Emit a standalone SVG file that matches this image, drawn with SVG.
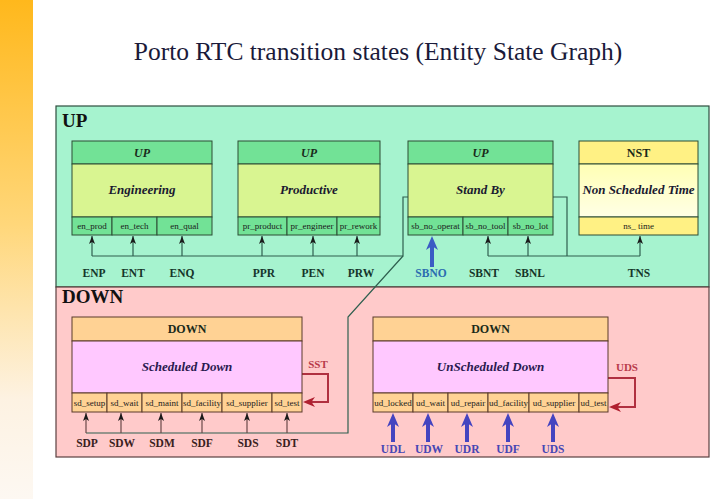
<svg xmlns="http://www.w3.org/2000/svg" width="720" height="499" viewBox="0 0 720 499" font-family="'Liberation Serif', 'Times New Roman', serif">
<style>
text{font-family:"Liberation Serif","Times New Roman",serif}
.title{font-size:25.5px;fill:#1a1a3a;text-anchor:middle}
.grp{font-size:19px;font-weight:bold;fill:#111}
.hdr{font-size:12px;font-weight:bold;text-anchor:middle;fill:#1a2a1a}
.hdri{font-style:italic}
.body{font-size:13px;font-weight:bold;font-style:italic;text-anchor:middle;fill:#1a1a30}
.bodyd{fill:#2a1a50}
.cell{font-size:9px;text-anchor:middle;fill:#1a1a1a}
.lbl{font-size:11.5px;font-weight:bold;text-anchor:middle}
.lu{fill:#15352a}
.ld{fill:#3a2020}
.lb{fill:#2b6cb0}
.lv{fill:#4646b4}
.lr{fill:#b83a4a;font-size:11px}
.nu{stroke:#2d4d35;stroke-width:1}
.nd{stroke:#5a3a2a;stroke-width:1}
.uh{fill:#72e296}
.ub{fill:#d9f591}
.nh{fill:#fff184}
.dh{fill:#ffd294}
.db{fill:#ffc8ff}
.cu{fill:none;stroke:#2f5f4f;stroke-width:1.2}
.cd{fill:none;stroke:#6a4848;stroke-width:1.2}
.cb{fill:none;stroke:#4444c0;stroke-width:4}
.cr{fill:none;stroke:#b03040;stroke-width:2}
</style>
<defs>
<linearGradient id="bar" x1="0" y1="0" x2="0" y2="1">
<stop offset="0" stop-color="#ffb81c"/>
<stop offset="0.45" stop-color="#ffd77a"/>
<stop offset="0.8" stop-color="#fdf2e2"/>
<stop offset="1" stop-color="#fdf8f2"/>
</linearGradient>
<linearGradient id="nstb" x1="0" y1="0" x2="0" y2="1">
<stop offset="0" stop-color="#ffffb4"/>
<stop offset="1" stop-color="#ffffe6"/>
</linearGradient>
<marker id="ah" viewBox="0 0 8 6" refX="8" refY="3" markerWidth="8" markerHeight="6" markerUnits="userSpaceOnUse" orient="auto">
<path d="M0,0 L8,3 L0,6 L2,3 z" fill="#1a1a1a"/>
</marker>
<marker id="ahb" viewBox="0 0 14 12" refX="5" refY="6" markerWidth="14" markerHeight="12" markerUnits="userSpaceOnUse" orient="auto">
<path d="M0,0 L14,6 L0,12 L4,6 z" fill="#4444c0"/>
</marker>
<marker id="ahb2" viewBox="0 0 14 12" refX="5" refY="6" markerWidth="14" markerHeight="12" markerUnits="userSpaceOnUse" orient="auto">
<path d="M0,0 L14,6 L0,12 L4,6 z" fill="#3a5cc4"/>
</marker>
<marker id="ahr" viewBox="0 0 12 10" refX="4" refY="5" markerWidth="12" markerHeight="10" markerUnits="userSpaceOnUse" orient="auto">
<path d="M0,0 L12,5 L0,10 L3.5,5 z" fill="#b02030"/>
</marker>
</defs>
<rect x="0" y="0" width="720" height="499" fill="#ffffff"/>
<rect x="0" y="0" width="33" height="499" fill="url(#bar)"/>
<text class="title" x="378" y="60">Porto RTC transition states (Entity State Graph)</text>

<g id="group-up">
<rect x="56" y="106" width="653" height="181" fill="#a6f3cf" stroke="#2e4e3e" stroke-width="1.2"/>
<text class="grp" x="62" y="127">UP</text>
</g>
<g id="group-down">
<rect x="56" y="287" width="653" height="170" fill="#ffcaca" stroke="#5a4040" stroke-width="1.2"/>
<text class="grp" x="62" y="303">DOWN</text>
</g>

<g id="connectors">
<path class="cu" d="M92,256 H403 V197 H413"/>
<path class="cu" d="M546,197 H567 V256"/>
<path class="cu" d="M488,256 H640"/>
<path class="cu" d="M403,256 L348,317 V433 H86"/>
<g class="cu" marker-end="url(#ah)">
<path d="M92,256 V236"/><path d="M133,256 V236"/><path d="M182,256 V236"/>
<path d="M262,256 V236"/><path d="M313,256 V236"/><path d="M357,256 V236"/>
<path d="M488,256 V236"/><path d="M528,256 V236"/><path d="M640,256 V236"/>
</g>
<g class="cd" marker-end="url(#ah)">
<path d="M86,433 V413"/><path d="M121,433 V413"/><path d="M161,433 V413"/>
<path d="M202,433 V413"/><path d="M247,433 V413"/><path d="M287,433 V413"/>
</g>
<path d="M432,267 V245" fill="none" stroke="#3a5cc4" stroke-width="4" marker-end="url(#ahb2)"/>
<g class="cb" marker-end="url(#ahb)">
<path d="M393,442 V422"/><path d="M428,442 V422"/><path d="M467,442 V422"/>
<path d="M508,442 V422"/><path d="M553,442 V422"/>
</g>
<path class="cr" d="M302,374 H328 V402 H311" marker-end="url(#ahr)"/>
<path class="cr" d="M608,378 H635 V407 H617" marker-end="url(#ahr)"/>
</g>

<g id="labels">
<text class="lbl lu" x="94" y="277">ENP</text>
<text class="lbl lu" x="133" y="277">ENT</text>
<text class="lbl lu" x="182" y="277">ENQ</text>
<text class="lbl lu" x="264" y="277">PPR</text>
<text class="lbl lu" x="313" y="277">PEN</text>
<text class="lbl lu" x="361" y="277">PRW</text>
<text class="lbl lb" x="431" y="277">SBNO</text>
<text class="lbl lu" x="484" y="277">SBNT</text>
<text class="lbl lu" x="530" y="277">SBNL</text>
<text class="lbl lu" x="639" y="277">TNS</text>
<text class="lbl ld" x="87" y="447">SDP</text>
<text class="lbl ld" x="122" y="447">SDW</text>
<text class="lbl ld" x="162" y="447">SDM</text>
<text class="lbl ld" x="202" y="447">SDF</text>
<text class="lbl ld" x="248" y="447">SDS</text>
<text class="lbl ld" x="287" y="447">SDT</text>
<text class="lbl lv" x="393" y="453">UDL</text>
<text class="lbl lv" x="429" y="453">UDW</text>
<text class="lbl lv" x="467" y="453">UDR</text>
<text class="lbl lv" x="508" y="453">UDF</text>
<text class="lbl lv" x="553" y="453">UDS</text>
<text class="lbl lr" x="318" y="368">SST</text>
<text class="lbl lr" x="627" y="371">UDS</text>
</g>

<g id="node-engineering">
<rect class="nu uh" x="72" y="141" width="140" height="23"/>
<rect class="nu ub" x="72" y="164" width="140" height="53"/>
<rect class="nu uh" x="72" y="217" width="40" height="18"/>
<rect class="nu uh" x="112" y="217" width="45" height="18"/>
<rect class="nu uh" x="157" y="217" width="55" height="18"/>
<text class="hdr hdri" x="142" y="157">UP</text>
<text class="body" x="142" y="194">Engineering</text>
<text class="cell" x="92" y="229">en_prod</text>
<text class="cell" x="134.5" y="229">en_tech</text>
<text class="cell" x="184.5" y="229">en_qual</text>
</g>

<g id="node-productive">
<rect class="nu uh" x="238" y="141" width="142" height="23"/>
<rect class="nu ub" x="238" y="164" width="142" height="53"/>
<rect class="nu uh" x="238" y="217" width="49" height="18"/>
<rect class="nu uh" x="287" y="217" width="50" height="18"/>
<rect class="nu uh" x="337" y="217" width="43" height="18"/>
<text class="hdr hdri" x="309" y="157">UP</text>
<text class="body" x="309" y="194">Productive</text>
<text class="cell" x="262.5" y="229">pr_product</text>
<text class="cell" x="312" y="229">pr_engineer</text>
<text class="cell" x="358.5" y="229">pr_rework</text>
</g>

<g id="node-standby">
<rect class="nu uh" x="408" y="141" width="145" height="23"/>
<rect class="nu ub" x="408" y="164" width="145" height="53"/>
<rect class="nu uh" x="408" y="217" width="55" height="18"/>
<rect class="nu uh" x="463" y="217" width="45" height="18"/>
<rect class="nu uh" x="508" y="217" width="45" height="18"/>
<text class="hdr hdri" x="480.5" y="157">UP</text>
<text class="body" x="480.5" y="194">Stand By</text>
<text class="cell" x="435.5" y="229">sb_no_operat</text>
<text class="cell" x="485.5" y="229">sb_no_tool</text>
<text class="cell" x="530.5" y="229">sb_no_lot</text>
</g>

<g id="node-nst">
<rect class="nu nh" x="579" y="141" width="119" height="23"/>
<rect class="nu" x="579" y="164" width="119" height="53" fill="url(#nstb)"/>
<rect class="nu nh" x="579" y="217" width="119" height="18"/>
<text class="hdr" x="638.5" y="157">NST</text>
<text class="body" x="638.5" y="194">Non Scheduled Time</text>
<text class="cell" x="638.5" y="229">ns_ time</text>
</g>

<g id="node-scheduled-down">
<rect class="nd dh" x="72" y="317" width="230" height="24"/>
<rect class="nd db" x="72" y="341" width="230" height="52"/>
<rect class="nd dh" x="72" y="393" width="35" height="19"/>
<rect class="nd dh" x="107" y="393" width="35" height="19"/>
<rect class="nd dh" x="142" y="393" width="40" height="19"/>
<rect class="nd dh" x="182" y="393" width="40" height="19"/>
<rect class="nd dh" x="222" y="393" width="50" height="19"/>
<rect class="nd dh" x="272" y="393" width="30" height="19"/>
<text class="hdr" x="187" y="333">DOWN</text>
<text class="body bodyd" x="187" y="371">Scheduled Down</text>
<text class="cell" x="89.5" y="406">sd_setup</text>
<text class="cell" x="124.5" y="406">sd_wait</text>
<text class="cell" x="162" y="406">sd_maint</text>
<text class="cell" x="202" y="406">sd_facility</text>
<text class="cell" x="247" y="406">sd_supplier</text>
<text class="cell" x="287" y="406">sd_test</text>
</g>

<g id="node-unscheduled-down">
<rect class="nd dh" x="373" y="317" width="235" height="24"/>
<rect class="nd db" x="373" y="341" width="235" height="52"/>
<rect class="nd dh" x="373" y="393" width="40" height="19"/>
<rect class="nd dh" x="413" y="393" width="35" height="19"/>
<rect class="nd dh" x="448" y="393" width="40" height="19"/>
<rect class="nd dh" x="488" y="393" width="41" height="19"/>
<rect class="nd dh" x="529" y="393" width="50" height="19"/>
<rect class="nd dh" x="579" y="393" width="29" height="19"/>
<text class="hdr" x="490.5" y="333">DOWN</text>
<text class="body bodyd" x="490.5" y="371">UnScheduled Down</text>
<text class="cell" x="393" y="406">ud_locked</text>
<text class="cell" x="430.5" y="406">ud_wait</text>
<text class="cell" x="468" y="406">ud_repair</text>
<text class="cell" x="508.5" y="406">ud_facility</text>
<text class="cell" x="554" y="406">ud_supplier</text>
<text class="cell" x="593.5" y="406">ud_test</text>
</g>
</svg>
